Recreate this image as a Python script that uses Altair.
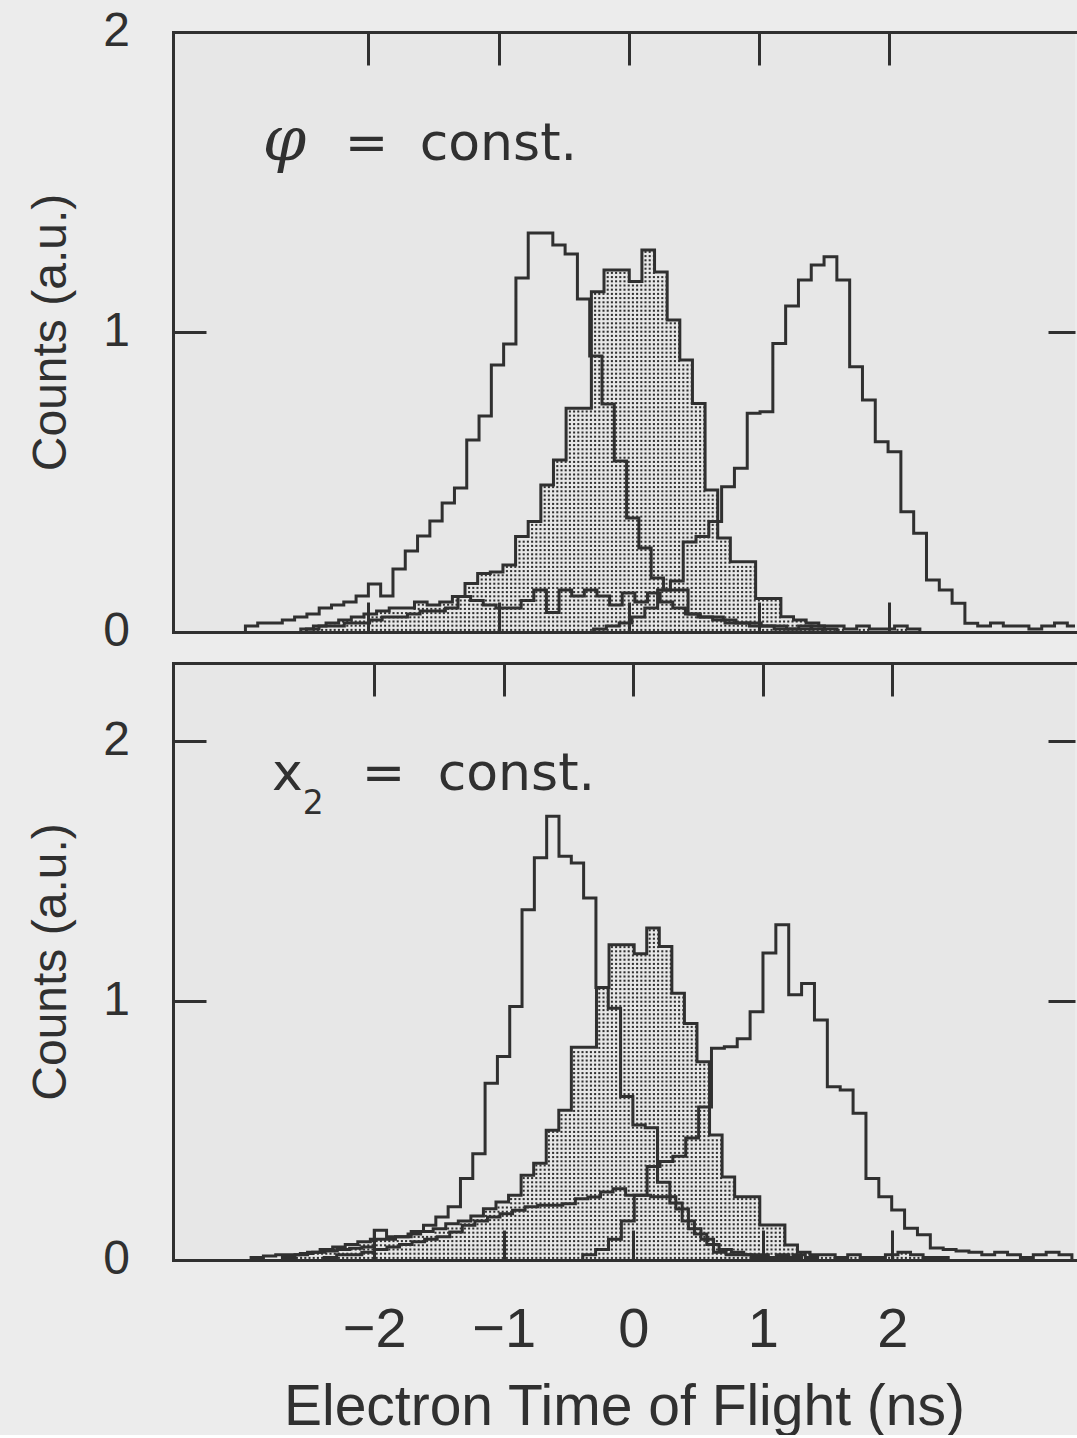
import numpy as np
import pandas as pd
import altair as alt

alt.data_transformers.disable_max_rows()

INK = "#303030"

# ---------------- data ----------------
# every histogram: left edge of first bin (ns), bin width (ns), bin heights (a.u.)

# upper panel  (phi = const.)
TOP_L_X0, TOP_L_W = -2.944, 0.0944
TOP_L = [0.02, 0.03, 0.03, 0.04, 0.05, 0.06, 0.08, 0.09, 0.10, 0.12,
         0.16, 0.12, 0.21, 0.27, 0.32, 0.37, 0.43, 0.48, 0.64, 0.72,
         0.89, 0.96, 1.18, 1.33, 1.33, 1.29, 1.26, 1.11, 0.92, 0.76,
         0.57, 0.38, 0.28, 0.18, 0.14, 0.14, 0.06, 0.05, 0.04, 0.03,
         0.03, 0.02, 0.02, 0.01, 0.01, 0.02, 0.01]
TOP_S_X0, TOP_S_W = -2.519, 0.097
TOP_S = [0.01, 0.02, 0.03, 0.04, 0.05, 0.06, 0.07, 0.08, 0.08, 0.10, 0.09, 0.10,
         0.118, 0.162, 0.195, 0.20, 0.223, 0.318, 0.368, 0.49, 0.573, 0.746, 0.746,
         1.134, 1.207, 1.207, 1.168, 1.273, 1.20, 1.04, 0.907, 0.762, 0.473,
         0.313, 0.234, 0.234, 0.112, 0.112, 0.051, 0.04, 0.03, 0.02, 0.02, 0.01,
         0.02, 0.01, 0.01, 0.02, 0.01]
TOP_R_X0, TOP_R_W = -0.271, 0.0983
TOP_R = [0.01, 0.02, 0.03, 0.05, 0.08, 0.14, 0.17, 0.30, 0.318, 0.368,
         0.484, 0.546, 0.729, 0.734, 0.962, 1.087, 1.173, 1.223, 1.251, 1.173,
         0.884, 0.773, 0.634, 0.601, 0.401, 0.329, 0.173, 0.14, 0.096, 0.029,
         0.02, 0.03, 0.02, 0.02, 0.01, 0.02, 0.03, 0.02, 0.01]
TOP_D_X0, TOP_D_W = -2.476, 0.097
TOP_D = [0.01, 0.02, 0.02, 0.03, 0.03, 0.04, 0.05, 0.05, 0.06, 0.07, 0.07, 0.08,
         0.118, 0.105, 0.09, 0.08, 0.08, 0.105, 0.14, 0.065, 0.14, 0.12,
         0.14, 0.12, 0.09, 0.13, 0.10, 0.13, 0.10, 0.08, 0.06, 0.05,
         0.05, 0.04, 0.03, 0.03, 0.02, 0.02, 0.01, 0.01, 0.02, 0.01]

# lower panel  (x2 = const.)
BOT_L_X0, BOT_L_W = -2.951, 0.0951
BOT_L = [0.01, 0.015, 0.02, 0.02, 0.025, 0.03, 0.035, 0.04, 0.045, 0.05,
         0.115, 0.09, 0.09, 0.11, 0.134, 0.166, 0.205, 0.314, 0.41, 0.681,
         0.784, 0.977, 1.35, 1.55, 1.71, 1.556, 1.53, 1.395,
         1.05, 0.97, 0.63, 0.52, 0.51, 0.30, 0.22, 0.15, 0.10, 0.06,
         0.04, 0.03, 0.02, 0.02, 0.01, 0.01, 0.02, 0.01]
BOT_S_X0, BOT_S_W = -2.709, 0.097
BOT_S = [0.01, 0.02, 0.03, 0.04, 0.05, 0.06, 0.07, 0.08, 0.08, 0.09, 0.10, 0.11, 0.12, 0.14, 0.15, 0.17,
         0.198, 0.224, 0.25, 0.327, 0.373, 0.50, 0.577, 0.82, 0.82,
         1.05, 1.215, 1.215, 1.18, 1.28, 1.208, 1.028, 0.912, 0.764, 0.482,
         0.32, 0.244, 0.244, 0.135, 0.135, 0.058, 0.03, 0.02, 0.02, 0.01,
         0.02, 0.01, 0.01, 0.02, 0.03, 0.02, 0.01, 0.01]
BOT_R_X0, BOT_R_W = -0.39, 0.0994
BOT_R = [0.02, 0.04, 0.08, 0.15, 0.25, 0.36, 0.38, 0.40, 0.47, 0.59,
         0.816, 0.822, 0.853, 0.957, 1.183, 1.292, 1.022, 1.066, 0.925, 0.668,
         0.655, 0.566, 0.314, 0.244, 0.193, 0.122, 0.097, 0.046, 0.04, 0.035,
         0.03, 0.02, 0.03, 0.02, 0.01, 0.02, 0.03, 0.02]
BOT_D_X0, BOT_D_W = -2.387, 0.097
BOT_D = [0.01, 0.02, 0.02, 0.03, 0.04, 0.05, 0.06, 0.07, 0.08, 0.09,
         0.108, 0.134, 0.15, 0.166, 0.178, 0.192, 0.205, 0.211, 0.211, 0.217,
         0.236, 0.243, 0.262, 0.275, 0.25, 0.25, 0.244, 0.244, 0.197, 0.12,
         0.08, 0.03, 0.02, 0.02, 0.01, 0.01, 0.02, 0.01]

X_TICKS = [-2, -1, 0, 1, 2]
Y_TICKS = [0, 1, 2]
Y_TICK_LABELS = ["0", "1", "2"]

TOP_XDOM = [-3.5, 3.425]
TOP_YDOM = [0, 2.0]
BOT_XDOM = [-3.554, 3.411]
BOT_YDOM = [0, 2.301]

# annotation text (label, x in ns, y in a.u.)
TOP_TXT = ["=", "const."]
TOP_TXT_X = [-2.182, -1.606]
TOP_TXT_Y = 1.575
TOP_SYM, TOP_SYM_X = "φ", -2.81
BOT_TXT = ["x", "=", "const."]
BOT_TXT_X = [-2.79, -2.097, -1.51]
BOT_TXT_Y = 1.81
BOT_SUB, BOT_SUB_X, BOT_SUB_Y = "2", -2.552, 1.72

W = 902
H_TOP = 600
H_BOT = 597


def hist_table(x0, w, vals):
    n = len(vals)
    t = [x0] + [x0 + k * w for k in range(n)] + [x0 + n * w]
    c = [0.0] + list(vals) + [0.0]
    return pd.DataFrame({"t": t, "c": c, "i": np.arange(n + 2)})


def dot_table(x0, w, vals, xdom, ydom, height, step=4.2):
    dx = step * (xdom[1] - xdom[0]) / W
    dy = step * (ydom[1] - ydom[0]) / height
    rows = []
    for x in np.arange(xdom[0] + dx / 2, xdom[1], dx):
        k = int(np.floor((x - x0) / w))
        if 0 <= k < len(vals):
            for y in np.arange(dy / 2, vals[k] - dy * 0.35, dy):
                rows.append((x, y))
    return pd.DataFrame(rows, columns=["t", "c"])


def panel(L, S, R, D, dots, txt, sym, sub, xdom, ydom, height, bottom_labels):
    xsc = alt.Scale(domain=xdom, nice=False, zero=False)
    ysc = alt.Scale(domain=ydom, nice=False, zero=False)

    def X(ax):
        return alt.X("t:Q", scale=xsc, axis=ax)

    def Y(ax):
        return alt.Y("c:Q", scale=ysc, axis=ax)

    ax_bottom_frame = alt.Axis(
        orient="bottom", domain=True, domainColor=INK, domainWidth=3, domainCap="square",
        ticks=False, tickSize=0, grid=False, values=X_TICKS, format="d",
        labels=bottom_labels, labelOverlap=False, labelFont="Liberation Sans",
        labelFontSize=56, labelColor=INK, labelPadding=42,
        title="Electron Time of Flight (ns)" if bottom_labels else None,
        titleFont="Liberation Sans", titleFontSize=57, titleFontWeight="normal",
        titleColor=INK, titlePadding=22)
    # left frame line + title
    ax_left_frame = alt.Axis(
        orient="left", domain=True, domainColor=INK, domainWidth=3, domainCap="square",
        ticks=False, tickSize=0, grid=False, labels=False,
        title="Counts (a.u.)", titleFont="Liberation Sans", titleFontSize=48,
        titleFontWeight="normal", titleColor=INK, titlePadding=98)
    ax_bottom_ticks = alt.Axis(
        orient="bottom", offset=-30, tickSize=30, tickWidth=3, tickColor=INK,
        domain=False, labels=False, grid=False, values=X_TICKS, title=None)
    ax_left_ticks = alt.Axis(
        orient="left", offset=-33, tickSize=33, tickWidth=3, tickColor=INK,
        domain=False, labels=False, grid=False, values=Y_TICKS, title=None)
    ax_top_frame = alt.Axis(
        orient="top", domain=True, domainColor=INK, domainWidth=3, domainCap="square",
        ticks=False, tickSize=0, labels=False, grid=False, title=None)
    ax_top_ticks = alt.Axis(
        orient="top", offset=-33, tickSize=33, tickWidth=3, tickColor=INK,
        domain=False, labels=False, grid=False, values=X_TICKS, title=None)
    ax_right_ticks = alt.Axis(
        orient="right", offset=-27, tickSize=27, tickWidth=3, tickColor=INK,
        domain=False, labels=False, grid=False, values=[1, 2], title=None)

    line = dict(interpolate="step-after", color=INK, strokeWidth=3, clip=True,
                strokeJoin="miter", strokeCap="butt")

    l_dots = alt.Chart(dots).mark_square(size=4.2, color=INK, opacity=1, clip=True).encode(
        x=X(ax_bottom_frame), y=Y(ax_left_frame))
    l_S = alt.Chart(S).mark_line(**line).encode(
        x=X(ax_bottom_ticks), y=Y(ax_left_ticks), order="i:Q")
    l_L = alt.Chart(L).mark_line(**line).encode(
        x=X(ax_top_frame), y=Y(ax_right_ticks), order="i:Q")
    l_R = alt.Chart(R).mark_line(**line).encode(
        x=X(ax_top_ticks), y=Y(None), order="i:Q")
    l_D = alt.Chart(D).mark_line(**line).encode(
        x=X(None), y=Y(None), order="i:Q")

    # value labels of the count axis, placed left of the frame
    ylab = pd.DataFrame({"c": Y_TICKS, "txt": Y_TICK_LABELS})
    l_ylab = alt.Chart(ylab).mark_text(
        align="right", baseline="middle", font="Liberation Sans", fontSize=48, color=INK
    ).encode(x=alt.value(-43), y=Y(None), text="txt:N")

    l_txt = alt.Chart(txt).mark_text(
        align="left", baseline="alphabetic", font="DejaVu Sans", fontSize=52, color=INK
    ).encode(x=X(None), y=Y(None), text="txt:N")
    layers = [l_dots, l_S, l_L, l_R, l_D, l_txt, l_ylab]
    if sym is not None:
        layers.append(alt.Chart(sym).mark_text(
            align="left", baseline="alphabetic", font="DejaVu Serif", fontSize=62,
            fontStyle="italic", color=INK).encode(x=X(None), y=Y(None), text="txt:N"))
    if sub is not None:
        layers.append(alt.Chart(sub).mark_text(
            align="left", baseline="alphabetic", font="DejaVu Sans", fontSize=33,
            color=INK).encode(x=X(None), y=Y(None), text="txt:N"))

    return alt.layer(*layers).resolve_axis(x="independent", y="independent").properties(
        width=W, height=height)


top = panel(
    hist_table(TOP_L_X0, TOP_L_W, TOP_L),
    hist_table(TOP_S_X0, TOP_S_W, TOP_S),
    hist_table(TOP_R_X0, TOP_R_W, TOP_R),
    hist_table(TOP_D_X0, TOP_D_W, TOP_D),
    dot_table(TOP_S_X0, TOP_S_W, TOP_S, TOP_XDOM, TOP_YDOM, H_TOP),
    pd.DataFrame({"txt": TOP_TXT, "t": TOP_TXT_X, "c": [TOP_TXT_Y] * len(TOP_TXT)}),
    pd.DataFrame({"txt": [TOP_SYM], "t": [TOP_SYM_X], "c": [TOP_TXT_Y]}),
    None,
    TOP_XDOM, TOP_YDOM, H_TOP, False)

bottom = panel(
    hist_table(BOT_L_X0, BOT_L_W, BOT_L),
    hist_table(BOT_S_X0, BOT_S_W, BOT_S),
    hist_table(BOT_R_X0, BOT_R_W, BOT_R),
    hist_table(BOT_D_X0, BOT_D_W, BOT_D),
    dot_table(BOT_S_X0, BOT_S_W, BOT_S, BOT_XDOM, BOT_YDOM, H_BOT),
    pd.DataFrame({"txt": BOT_TXT, "t": BOT_TXT_X, "c": [BOT_TXT_Y] * len(BOT_TXT)}),
    None,
    pd.DataFrame({"txt": [BOT_SUB], "t": [BOT_SUB_X], "c": [BOT_SUB_Y]}),
    BOT_XDOM, BOT_YDOM, H_BOT, True)

chart = alt.vconcat(top, bottom, spacing=5).properties(
    padding={"left": 27, "top": 8, "right": 0, "bottom": 0}
).configure(background="#ececec").configure_view(stroke=None, fill="#e7e7e7")

chart.save("out.html", embed_options={"renderer": "svg", "actions": False})
